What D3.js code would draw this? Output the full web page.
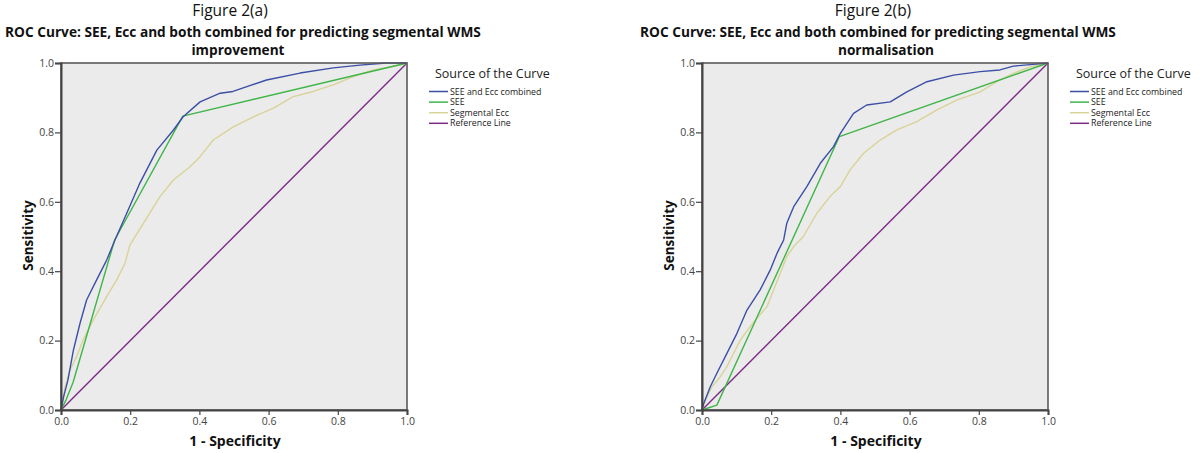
<!DOCTYPE html>
<html>
<head>
<meta charset="utf-8">
<script src="https://cdn.jsdelivr.net/npm/d3@7"></script>
<style>
  html, body { margin: 0; padding: 0; background: #ffffff; }
  svg { display: block; }
  text { font-family: "Open Sans", "DejaVu Sans", sans-serif; }
</style>
</head>
<body>
<svg id="chart" width="1200" height="453"></svg>
<script>
// ---------------- DATA ----------------
const xTicks = [0.0, 0.2, 0.4, 0.6, 0.8, 1.0];
const yTicks = [0.0, 0.2, 0.4, 0.6, 0.8, 1.0];
const seriesNames = ["SEE and Ecc combined", "SEE", "Segmental Ecc", "Reference Line"];
const seriesColors = ["#3c4fa6", "#3fb548", "#d8d396", "#7d2a88"];

const figureLabels = ["Figure 2(a)", "Figure 2(b)"];
const titleLine1 = ["ROC Curve: SEE, Ecc and both combined for predicting segmental WMS",
                    "ROC Curve: SEE, Ecc and both combined for predicting segmental WMS"];
const titleLine2 = ["improvement", "normalisation"];

// Figure 2(a): [1 - specificity, sensitivity]
const combinedA = [[0,0],[0.008,0.04],[0.02,0.086],[0.036,0.173],[0.055,0.25],[0.074,0.317],[0.103,0.375],
  [0.132,0.432],[0.156,0.49],[0.19,0.567],[0.228,0.654],[0.277,0.749],[0.325,0.807],[0.353,0.845],
  [0.402,0.888],[0.46,0.913],[0.497,0.918],[0.594,0.951],[0.691,0.971],[0.787,0.986],[0.864,0.994],[0.94,1.0],[1,1]];
const seeA = [[0,0],[0.015,0.03],[0.035,0.08],[0.155,0.49],[0.352,0.847],[1,1]];
const eccA = [[0,0],[0.012,0.067],[0.026,0.115],[0.045,0.154],[0.064,0.202],[0.093,0.259],[0.132,0.327],
  [0.161,0.375],[0.185,0.423],[0.199,0.475],[0.238,0.538],[0.286,0.615],[0.325,0.663],[0.373,0.701],
  [0.402,0.73],[0.44,0.778],[0.498,0.816],[0.556,0.845],[0.614,0.87],[0.671,0.903],[0.729,0.918],
  [0.787,0.937],[0.845,0.961],[0.903,0.98],[0.98,0.994],[1,1]];
const refA = [[0,0],[1,1]];

// Figure 2(b)
const combinedB = [[0,0],[0.005,0.019],[0.024,0.067],[0.043,0.106],[0.072,0.163],[0.101,0.221],[0.13,0.288],
  [0.168,0.346],[0.197,0.403],[0.217,0.452],[0.236,0.49],[0.245,0.538],[0.265,0.586],[0.303,0.644],
  [0.342,0.711],[0.38,0.759],[0.4,0.797],[0.438,0.855],[0.476,0.879],[0.544,0.888],[0.592,0.917],
  [0.65,0.946],[0.727,0.965],[0.804,0.975],[0.861,0.98],[0.9,0.991],[0.957,0.996],[1,1]];
const seeB = [[0,0],[0.043,0.014],[0.397,0.788],[1,1]];
const eccB = [[0,0],[0.014,0.038],[0.029,0.067],[0.053,0.096],[0.072,0.125],[0.091,0.163],[0.111,0.202],
  [0.139,0.24],[0.163,0.269],[0.188,0.298],[0.207,0.346],[0.226,0.394],[0.245,0.442],[0.265,0.471],
  [0.293,0.5],[0.332,0.567],[0.37,0.615],[0.4,0.644],[0.428,0.692],[0.467,0.74],[0.515,0.778],
  [0.563,0.807],[0.621,0.831],[0.679,0.865],[0.736,0.893],[0.804,0.917],[0.852,0.946],[0.9,0.97],
  [0.948,0.989],[1,1]];
const refB = [[0,0],[1,1]];

const panelSeries = [[combinedA, seeA, eccA, refA], [combinedB, seeB, eccB, refB]];

// ---------------- LAYOUT ----------------
const panels = [
  { left: 61, right: 407, top: 63, bottom: 410, figX: 230, titleX: 243 },
  { left: 702, right: 1048, top: 63, bottom: 410, figX: 873, titleX: 878 }
];

const svg = d3.select("#chart");

function fitText(sel, targetWidth) {
  const w = sel.node().getComputedTextLength();
  const fs = parseFloat(sel.attr("font-size"));
  sel.attr("font-size", fs * targetWidth / w);
}

panels.forEach((p, i) => {
  const g = svg.append("g");
  const x = d3.scaleLinear().domain([0, 1]).range([p.left, p.right]);
  const y = d3.scaleLinear().domain([0, 1]).range([p.bottom, p.top]);

  // Figure label and titles
  g.append("text").attr("x", p.figX).attr("y", 16).attr("text-anchor", "middle")
    .attr("font-size", 15.5).attr("fill", "#111").text(figureLabels[i]);
  const t1 = g.append("text").attr("x", p.titleX).attr("y", 37).attr("text-anchor", "middle")
    .attr("font-family", "'Liberation Sans', Arial, sans-serif")
    .attr("font-size", 15).attr("font-weight", "bold").attr("fill", "#111").text(titleLine1[i]);
  fitText(t1, 476);
  g.append("text").attr("x", p.titleX + (i === 1 ? 8 : -5)).attr("y", 54.5).attr("text-anchor", "middle")
    .attr("font-family", "'Liberation Sans', Arial, sans-serif")
    .attr("font-size", t1.attr("font-size")).attr("font-weight", "bold").attr("fill", "#111").text(titleLine2[i]);

  // Plot background
  g.append("rect").attr("x", p.left).attr("y", p.top)
    .attr("width", p.right - p.left).attr("height", p.bottom - p.top)
    .attr("fill", "#ebebeb");

  // Curves
  const line = d3.line().x(d => x(d[0])).y(d => y(d[1]));
  const order = [3, 2, 1, 0];
  order.forEach(k => {
    g.append("path").datum(panelSeries[i][k])
      .attr("d", line).attr("fill", "none")
      .attr("stroke", seriesColors[k]).attr("stroke-width", 1.4)
      .attr("stroke-linejoin", "round");
  });

  // Frame
  g.append("rect").attr("x", p.left).attr("y", p.top)
    .attr("width", p.right - p.left).attr("height", p.bottom - p.top)
    .attr("fill", "none").attr("stroke", "#5a5a5a").attr("stroke-width", 1.6);

  // Axes
  const xAxis = d3.axisBottom(x).tickValues(xTicks).tickFormat(d3.format(".1f")).tickSize(5).tickPadding(3);
  const yAxis = d3.axisLeft(y).tickValues(yTicks).tickFormat(d3.format(".1f")).tickSize(6).tickPadding(1);
  const gx = g.append("g").attr("transform", `translate(0,${p.bottom})`).call(xAxis);
  const gy = g.append("g").attr("transform", `translate(${p.left},0)`).call(yAxis);
  [gx, gy].forEach(a => {
    a.select(".domain").attr("stroke", "#444").attr("stroke-width", 2);
    a.selectAll(".tick line").attr("stroke", "#444").attr("stroke-width", 1.2);
    a.selectAll(".tick text").attr("font-size", 10.5).attr("fill", "#444")
      .attr("font-family", "'DejaVu Sans', sans-serif");
  });

  // Axis titles
  g.append("text").attr("x", (p.left + p.right) / 2 + 1).attr("y", 446).attr("text-anchor", "middle")
    .attr("font-size", 14).attr("font-weight", "bold").attr("fill", "#111").text("1 - Specificity");
  g.append("text").attr("transform", `translate(${p.left - 33},${(p.top + p.bottom) / 2 - 1}) rotate(-90)`)
    .attr("text-anchor", "middle").attr("dy", "0.35em")
    .attr("font-size", 13.5).attr("font-weight", "bold").attr("fill", "#111").text("Sensitivity");

  // Legend
  g.append("text").attr("x", p.right + 28).attr("y", 78).attr("font-size", 12.5).attr("fill", "#222")
    .text("Source of the Curve");
  seriesNames.forEach((name, k) => {
    const cy = 91.5 + k * 10.6;
    g.append("line").attr("x1", p.right + 22).attr("x2", p.right + 41)
      .attr("y1", cy).attr("y2", cy).attr("stroke", seriesColors[k]).attr("stroke-width", 1.5);
    g.append("text").attr("x", p.right + 43).attr("y", cy).attr("dy", "0.35em")
      .attr("font-size", 8.8).attr("fill", "#222")
      .attr("font-family", "'Liberation Sans', Arial, sans-serif").text(name);
  });
});
</script>
</body>
</html>
